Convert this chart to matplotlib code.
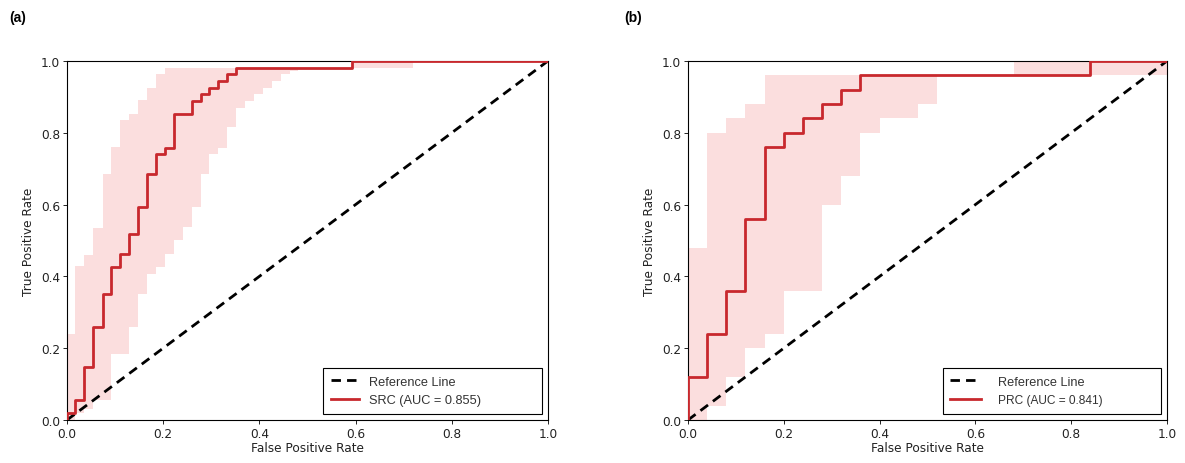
import numpy as np
import matplotlib
matplotlib.use("Agg")
import matplotlib.pyplot as plt

# (a) SRC curve and its confidence band (step functions, breakpoints + values)
src_fpr = [0, 0, 0.017, 0.036, 0.054, 0.074, 0.092, 0.111, 0.13, 0.148, 0.167, 0.185,
           0.204, 0.222, 0.259, 0.278, 0.296, 0.315, 0.333, 0.352, 0.593, 1.0]
src_tpr = [0, 0.019, 0.056, 0.148, 0.259, 0.352, 0.426, 0.463, 0.519, 0.593, 0.685, 0.741,
           0.759, 0.852, 0.889, 0.907, 0.926, 0.944, 0.963, 0.981, 1.0, 1.0]
src_up_x = [0, 0.017, 0.036, 0.054, 0.074, 0.092, 0.111, 0.13, 0.148, 0.167, 0.185, 0.204, 0.593]
src_up_y = [0.24, 0.43, 0.46, 0.535, 0.685, 0.76, 0.835, 0.852, 0.89, 0.926, 0.963, 0.981, 1.0]
src_lo_x = [0, 0.017, 0.036, 0.054, 0.092, 0.13, 0.148, 0.167, 0.185, 0.204, 0.222, 0.241,
            0.259, 0.278, 0.296, 0.315, 0.333, 0.352, 0.37, 0.389, 0.407, 0.426, 0.444,
            0.463, 0.481, 0.72]
src_lo_y = [0.0, 0.019, 0.03, 0.056, 0.185, 0.26, 0.35, 0.407, 0.426, 0.463, 0.5, 0.537,
            0.593, 0.685, 0.741, 0.759, 0.815, 0.87, 0.889, 0.907, 0.926, 0.944, 0.963,
            0.972, 0.981, 1.0]

# (b) PRC curve and band
prc_fpr = [0, 0, 0.04, 0.08, 0.12, 0.16, 0.20, 0.24, 0.28, 0.32, 0.36, 0.84, 1.0]
prc_tpr = [0, 0.12, 0.24, 0.36, 0.56, 0.76, 0.80, 0.84, 0.88, 0.92, 0.96, 1.0, 1.0]
prc_up_x = [0, 0.04, 0.08, 0.12, 0.16, 0.68]
prc_up_y = [0.48, 0.80, 0.84, 0.88, 0.96, 1.0]
prc_lo_x = [0, 0.04, 0.08, 0.12, 0.16, 0.20, 0.28, 0.32, 0.36, 0.40, 0.48, 0.52]
prc_lo_y = [0.0, 0.04, 0.12, 0.20, 0.24, 0.36, 0.60, 0.68, 0.80, 0.84, 0.88, 0.96]

RED = "#c8282d"
PINK = "#fbdede"
FS = 8.7


def step_at(xs, ys, grid):
    idx = np.searchsorted(np.asarray(xs), grid, side="right") - 1
    return np.asarray(ys)[idx]


def draw_panel(ax, fpr, tpr, up_x, up_y, lo_x, lo_y, label, lab_font, hl, htp):
    grid = np.unique(np.concatenate([up_x, lo_x, [1.0]]))
    ax.fill_between(grid, step_at(lo_x, lo_y, grid), step_at(up_x, up_y, grid),
                    step="post", color=PINK, lw=0, zorder=1)
    ax.plot([0, 1], [0, 1], color="black", ls=(0, (3.4, 2.2)), lw=2.0,
            label="Reference Line", zorder=3)
    ax.step(fpr, tpr, where="post", color=RED, lw=2.0, label=label, zorder=4)
    ax.set_xlim(0, 1)
    ax.set_ylim(0, 1)
    ax.set_xticks(np.arange(0, 1.01, 0.2))
    ax.set_yticks(np.arange(0, 1.01, 0.2))
    ax.tick_params(labelsize=FS, length=3, width=0.6, pad=2, labelcolor="#222222")
    for s in ax.spines.values():
        s.set_linewidth(0.8)
    ax.set_xlabel("False Positive Rate", fontsize=FS, labelpad=1, color="#222222")
    ax.set_ylabel("True Positive Rate", fontsize=FS, labelpad=4, color="#222222")
    leg = ax.legend(loc="lower left", bbox_to_anchor=(0.532, 0.017, 0.455, 0.13),
                    mode="expand", fancybox=False, edgecolor="black", framealpha=1,
                    prop={"family": "Liberation Sans", "size": 9.2},
                    handlelength=hl, handletextpad=htp, borderaxespad=0,
                    labelspacing=0.5, borderpad=0.6)
    leg.get_frame().set_linewidth(0.8)
    for t in leg.get_texts():
        t.set_color("#333333")
    leg.get_texts()[1].set_fontproperties(lab_font)
    return leg


fig = plt.figure(figsize=(11.85, 4.64), dpi=100)
ax1 = fig.add_axes([0.0565, 0.0927, 0.4059, 0.7737])
ax2 = fig.add_axes([0.5806, 0.0927, 0.4042, 0.7737])

draw_panel(ax1, src_fpr, src_tpr, src_up_x, src_up_y, src_lo_x, src_lo_y,
           "SRC (AUC = 0.855)", {"family": "Liberation Sans", "size": 9.2}, 2.2, 0.8)
draw_panel(ax2, prc_fpr, prc_tpr, prc_up_x, prc_up_y, prc_lo_x, prc_lo_y,
           "PRC (AUC = 0.841)", {"family": ["Liberation Sans Narrow", "Liberation Sans"],
                                 "size": 8.6}, 2.4, 1.3)

fig.text(0.008, 0.952, "(a)", fontsize=10, fontweight="bold", family="Liberation Sans")
fig.text(0.527, 0.952, "(b)", fontsize=10, fontweight="bold", family="Liberation Sans")

fig.savefig("out.png", dpi=100)
